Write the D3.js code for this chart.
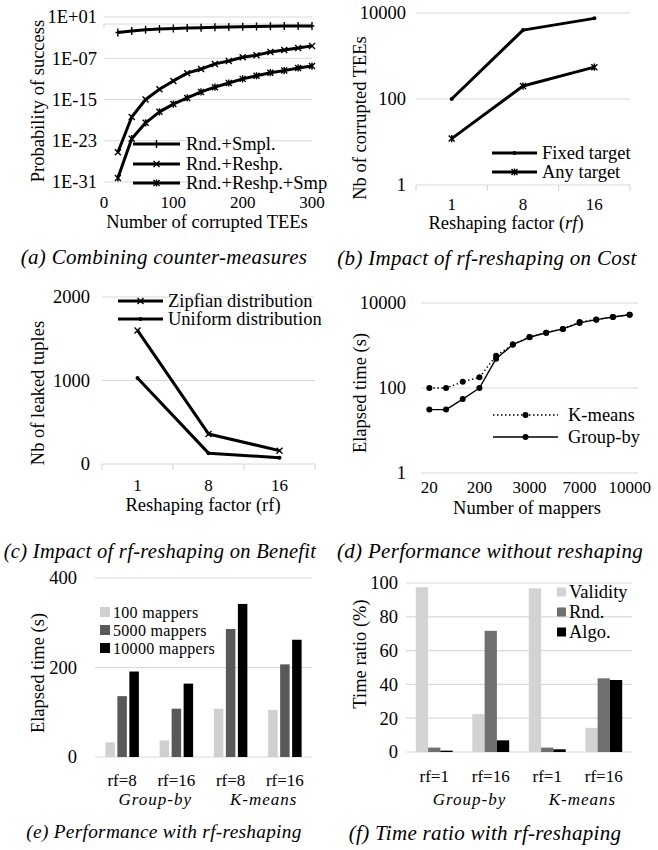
<!DOCTYPE html>
<html>
<head>
<meta charset="utf-8">
<script src="https://cdn.jsdelivr.net/npm/d3@7"></script>
<style>
  body { margin: 0; background: #fff; }
  svg text { font-family: "Liberation Serif", "Times New Roman", serif; fill: #000; }
</style>
</head>
<body>
<svg id="fig" width="658" height="850"></svg>
<script>
// (a) combining counter-measures
const aTees = [20, 40, 60, 80, 100, 120, 140, 160, 180, 200, 220, 240, 260, 280, 300];
const aSmpl = [1.0e-2, 2.0e-2, 3.2e-2, 4.5e-2, 5.6e-2, 7.1e-2, 7.9e-2, 0.10, 0.11, 0.13, 0.14, 0.16, 0.17, 0.17, 0.18];
const aReshp = [6e-26, 4e-19, 1e-15, 1e-13, 4e-12, 1.3e-10, 8e-10, 8e-9, 3e-8, 1.6e-7, 4e-7, 1.6e-6, 4e-6, 1e-5, 2.5e-5];
const aReshpSmpl = [6e-31, 2.5e-23, 3e-20, 4e-18, 1.3e-16, 2e-15, 3e-14, 2.5e-13, 1.6e-12, 1e-11, 4e-11, 1.6e-10, 4e-10, 1.3e-9, 3e-9];
const aYTicks = [1e1, 1e-7, 1e-15, 1e-23, 1e-31];
const aYLabels = ["1E+01", "1E-07", "1E-15", "1E-23", "1E-31"];
const aXTicks = [0, 100, 200, 300];

// (b) impact on cost
const rfCats = ["1", "8", "16"];
const bFixed = [100, 4000, 7500];
const bAny = [12, 200, 550];
const bYTicks = [1, 100, 10000];

// (c) impact on benefit
const cZipf = [1600, 360, 160];
const cUniform = [1030, 130, 75];
const cYTicks = [0, 1000, 2000];

// (d) performance without reshaping
const dMappers = ["20", "50", "100", "200", "500", "1000", "3000", "4000", "5000", "7000", "8000", "9000", "10000"];
const dShown = ["20", "200", "3000", "7000", "10000"];
const dKmeans = [100, 100, 140, 178, 575, 1050, 1580, 2000, 2460, 3560, 4100, 4670, 5300];
const dGroupby = [31, 31, 55, 100, 490, 1050, 1560, 2000, 2460, 3400, 4050, 4670, 5300];
const dYTicks = [1, 100, 10000];

// (e) performance with rf-reshaping
const eGroups = ["rf=8", "rf=16", "rf=8", "rf=16"];
const eM100 = [33, 37, 108, 105];
const eM5000 = [136, 108, 286, 207];
const eM10000 = [191, 164, 342, 262];
const eYTicks = [0, 200, 400];

// (f) time ratio
const fGroups = ["rf=1", "rf=16", "rf=1", "rf=16"];
const fValidity = [97.5, 22.4, 96.8, 14.3];
const fRnd = [2.6, 71.7, 2.6, 43.6];
const fAlgo = [0.8, 6.9, 1.6, 42.6];
const fYTicks = [0, 20, 40, 60, 80, 100];

const apps = ["Group-by", "K-means"];

const svg = d3.select("#fig");
const GRID = "#d9d9d9";
const FS = 18.5;   // axis titles, legends
const TS = 17;     // tick labels
const CS = 21;     // captions

// clip for panel (a): legend text runs into the gutter and is cut there
svg.append("clipPath").attr("id", "clipA")
  .append("rect").attr("x", 0).attr("y", 0).attr("width", 328).attr("height", 280);

// ---- helpers ----
function text(g, x, y, s, opt = {}) {
  return g.append("text").attr("x", x).attr("y", y)
    .attr("text-anchor", opt.anchor || "middle")
    .attr("font-size", opt.size || FS)
    .attr("font-style", opt.italic ? "italic" : null)
    .attr("letter-spacing", opt.ls || null)
    .text(s);
}

function yTitle(x, y, s) {
  svg.append("text")
    .attr("transform", `translate(${x},${y}) rotate(-90)`)
    .attr("text-anchor", "middle").attr("dy", "0.35em")
    .attr("font-size", FS).text(s);
}

function caption(x, y, s, size) {
  text(svg, x, y, s, { italic: true, size: size || CS, ls: 0.3 });
}

function gridY(scale, ticks, x0, x1, labels, lx) {
  const g = svg.append("g");
  ticks.forEach((t, i) => {
    g.append("line").attr("x1", x0).attr("x2", x1)
      .attr("y1", scale(t)).attr("y2", scale(t))
      .attr("stroke", GRID).attr("stroke-width", 1.2);
    text(g, lx, scale(t), labels ? labels[i] : String(t), { anchor: "end" })
      .attr("dy", "0.35em");
  });
}

// marker paths
function marker(g, kind, x, y, s) {
  const p = d3.path();
  if (kind === "plus") {
    p.moveTo(x, y - s); p.lineTo(x, y + s);
    p.moveTo(x - s * 0.6, y); p.lineTo(x + s * 0.6, y);
  } else if (kind === "x") {
    p.moveTo(x - s, y - s); p.lineTo(x + s, y + s);
    p.moveTo(x - s, y + s); p.lineTo(x + s, y - s);
  } else if (kind === "star") {
    p.moveTo(x - s, y - s); p.lineTo(x + s, y + s);
    p.moveTo(x - s, y + s); p.lineTo(x + s, y - s);
    p.moveTo(x, y - s * 1.2); p.lineTo(x, y + s * 1.2);
  }
  if (kind === "dot") {
    g.append("circle").attr("cx", x).attr("cy", y).attr("r", s).attr("fill", "#000");
  } else {
    g.append("path").attr("d", p.toString()).attr("stroke", "#000")
      .attr("stroke-width", 1.4).attr("fill", "none");
  }
}

function series(g, xs, ys, kind, ms, width, dash) {
  const pts = xs.map((x, i) => [x, ys[i]]);
  g.append("path").attr("d", d3.line()(pts))
    .attr("fill", "none").attr("stroke", "#000")
    .attr("stroke-width", width).attr("stroke-dasharray", dash || null)
    .attr("stroke-linejoin", "round");
  pts.forEach(p => marker(g, kind, p[0], p[1], ms));
}

function lineLegend(g, items, x0, x1, tx) {
  items.forEach(it => {
    g.append("line").attr("x1", x0).attr("x2", x1).attr("y1", it.y).attr("y2", it.y)
      .attr("stroke", "#000").attr("stroke-width", it.w).attr("stroke-dasharray", it.dash || null);
    marker(g, it.kind, (x0 + x1) / 2, it.y, it.ms);
    text(g, tx, it.y, it.label, { anchor: "start" }).attr("dy", "0.35em");
  });
}

function catAxis(scale, y, ticks) {
  const g = svg.append("g");
  const [r0, r1] = scale.range();
  g.append("line").attr("x1", r0).attr("x2", r1).attr("y1", y).attr("y2", y)
    .attr("stroke", GRID).attr("stroke-width", 1.2);
  if (ticks) {
    const bw = scale.step();
    for (let i = 0; i <= scale.domain().length; i++) {
      g.append("line").attr("x1", r0 + i * bw).attr("x2", r0 + i * bw)
        .attr("y1", y).attr("y2", y + 6).attr("stroke", GRID).attr("stroke-width", 1.2);
    }
  }
}

// ---- (a) ----
{
  const x = d3.scaleLinear().domain([0, 300]).range([104, 312]);
  const y = d3.scaleLog().domain([1e-31, 1e1]).range([182, 17]);
  svg.append("path").attr("d", "M104,28V24H312").attr("fill", "none")
    .attr("stroke", GRID).attr("stroke-width", 1.2);
  gridY(y, aYTicks, 104, 312, aYLabels, 97);
  aXTicks.forEach(t => text(svg, x(t), 208, String(t), { size: TS }));
  const g = svg.append("g").attr("clip-path", "url(#clipA)");
  const cx = aTees.map(x);
  series(g, cx, aSmpl.map(y), "plus", 4, 3);
  series(g, cx, aReshp.map(y), "x", 3, 3);
  series(g, cx, aReshpSmpl.map(y), "star", 3, 3);
  lineLegend(g, [
    { y: 144, kind: "plus", ms: 4, w: 3, label: "Rnd.+Smpl." },
    { y: 164, kind: "x", ms: 3, w: 3, label: "Rnd.+Reshp." },
    { y: 183, kind: "star", ms: 3, w: 3, label: "Rnd.+Reshp.+Smpl." }
  ], 133, 180, 186);
  text(svg, 207, 228, "Number of corrupted TEEs");
  yTitle(38, 101, "Probability  of success");
  caption(164, 264, "(a)  Combining counter-measures");
}

// ---- (b) ----
{
  const x = d3.scaleBand().domain(rfCats).range([416, 630]);
  const y = d3.scaleLog().domain([1, 1e4]).range([185, 13]);
  gridY(y, bYTicks.slice(1), 416, 630, null, 406);
  text(svg, 406, y(1), "1", { anchor: "end" }).attr("dy", "0.35em");
  catAxis(x, 185, true);
  rfCats.forEach(c => text(svg, x(c) + x.bandwidth() / 2, 210, c, { size: TS }));
  const cx = rfCats.map(c => x(c) + x.bandwidth() / 2);
  const g = svg.append("g");
  series(g, cx, bFixed.map(y), "dot", 2, 3);
  series(g, cx, bAny.map(y), "star", 3, 3);
  lineLegend(g, [
    { y: 153, kind: "dot", ms: 2, w: 3, label: "Fixed target" },
    { y: 172, kind: "star", ms: 3, w: 3, label: "Any target" }
  ], 492, 537, 542);
  const t = text(svg, 506, 229, "Reshaping factor (");
  t.append("tspan").attr("font-style", "italic").text("rf");
  t.append("tspan").text(")");
  yTitle(360, 118, "Nb of corrupted TEEs");
  caption(487, 265, "(b) Impact of rf-reshaping on Cost");
}

// ---- (c) ----
{
  const x = d3.scaleBand().domain(rfCats).range([102, 315]);
  const y = d3.scaleLinear().domain([0, 2000]).range([464, 297]);
  gridY(y, cYTicks.slice(1), 102, 315, null, 90);
  text(svg, 90, y(0), "0", { anchor: "end" }).attr("dy", "0.35em");
  catAxis(x, 464, true);
  rfCats.forEach(c => text(svg, x(c) + x.bandwidth() / 2, 491, c, { size: TS }));
  const cx = rfCats.map(c => x(c) + x.bandwidth() / 2);
  const g = svg.append("g");
  series(g, cx, cZipf.map(y), "x", 3, 3);
  series(g, cx, cUniform.map(y), "dot", 2, 3);
  lineLegend(g, [
    { y: 301, kind: "x", ms: 3, w: 3, label: "Zipfian distribution" },
    { y: 319, kind: "dot", ms: 2, w: 3, label: "Uniform distribution" }
  ], 118, 163, 168);
  text(svg, 203, 511, "Reshaping factor (rf)");
  yTitle(38, 393, "Nb of leaked tuples");
  caption(160, 558, "(c) Impact of rf-reshaping on Benefit", 20.5);
}

// ---- (d) ----
{
  const x = d3.scalePoint().domain(dMappers).range([421, 638]).padding(0.5);
  const y = d3.scaleLog().domain([1, 1e4]).range([473, 303]);
  gridY(y, dYTicks, 421, 638, null, 406);
  dShown.forEach(c => text(svg, x(c), 493, c, { size: TS }));
  const cx = dMappers.map(x);
  const g = svg.append("g");
  series(g, cx, dKmeans.map(y), "dot", 3, 1.4, "1.5,2.5");
  series(g, cx, dGroupby.map(y), "dot", 3, 1.4);
  lineLegend(g, [
    { y: 415, kind: "dot", ms: 3, w: 1.4, dash: "1.5,2.5", label: "K-means" },
    { y: 437, kind: "dot", ms: 3, w: 1.4, label: "Group-by" }
  ], 493, 558, 568);
  text(svg, 527, 514, "Number of mappers");
  yTitle(360, 393, "Elapsed time (s)");
  caption(490, 558, "(d) Performance without reshaping");
}

// ---- bar panels ----
function bars(groups, vals, colors, x0, x1, y, barW, gap) {
  const x = d3.scaleBand().domain(d3.range(groups.length)).range([x0, x1]);
  const g = svg.append("g");
  const n = vals.length;
  const tot = n * barW + (n - 1) * gap;
  groups.forEach((_, gi) => {
    const c = x(gi) + x.bandwidth() / 2;
    vals.forEach((v, si) => {
      const bx = c - tot / 2 + si * (barW + gap);
      g.append("rect").attr("x", bx).attr("y", y(v[gi]))
        .attr("width", barW).attr("height", y(0) - y(v[gi]))
        .attr("fill", colors[si]);
    });
  });
  return x;
}

function boxLegend(items, sx, size, tx, opt) {
  items.forEach(it => {
    svg.append("rect").attr("x", sx).attr("y", it.y - size / 2)
      .attr("width", size).attr("height", size).attr("fill", it.color);
    text(svg, tx, it.y, it.label, Object.assign({ anchor: "start" }, opt)).attr("dy", "0.35em");
  });
}

// ---- (e) ----
{
  const y = d3.scaleLinear().domain([0, 400]).range([757, 578]);
  const cols = ["#d0d0d0", "#595959", "#000000"];
  gridY(y, eYTicks, 95, 312, null, 77);
  const x = bars(eGroups, [eM100, eM5000, eM10000], cols, 95, 312, y, 9.5, 2.5);
  eGroups.forEach((c, i) => text(svg, x(i) + x.bandwidth() / 2, 786, c, { size: TS }));
  apps.forEach((a, i) => {
    const m = (x(2 * i) + x(2 * i + 1)) / 2 + x.bandwidth() / 2;
    text(svg, m + 6, 805, a, { italic: true, ls: 1, size: TS });
  });
  boxLegend([
    { y: 612, color: cols[0], label: "100 mappers" },
    { y: 630, color: cols[1], label: "5000 mappers" },
    { y: 648, color: cols[2], label: "10000 mappers" }
  ], 100, 10, 113, { size: 16, ls: 0.3 });
  yTitle(38, 673, "Elapsed time (s)");
  caption(164, 838, "(e) Performance with rf-reshaping", 19.3);
}

// ---- (f) ----
{
  const y = d3.scaleLinear().domain([0, 100]).range([752, 583]);
  const cols = ["#d3d3d3", "#707070", "#000000"];
  gridY(y, fYTicks, 406, 632, null, 398);
  const x = bars(fGroups, [fValidity, fRnd, fAlgo], cols, 406, 632, y, 12.3, 0);
  fGroups.forEach((c, i) => text(svg, x(i) + x.bandwidth() / 2, 782, c, { size: TS }));
  apps.forEach((a, i) => {
    const m = (x(2 * i) + x(2 * i + 1)) / 2 + x.bandwidth() / 2;
    text(svg, m + 7, 805, a, { italic: true, ls: 1, size: TS });
  });
  boxLegend([
    { y: 592, color: cols[0], label: "Validity" },
    { y: 612, color: cols[1], label: "Rnd." },
    { y: 632, color: cols[2], label: "Algo." }
  ], 557, 9, 569, {});
  yTitle(360, 654, "Time ratio (%)");
  caption(485, 840, "(f) Time ratio with rf-reshaping");
}
</script>
</body>
</html>
